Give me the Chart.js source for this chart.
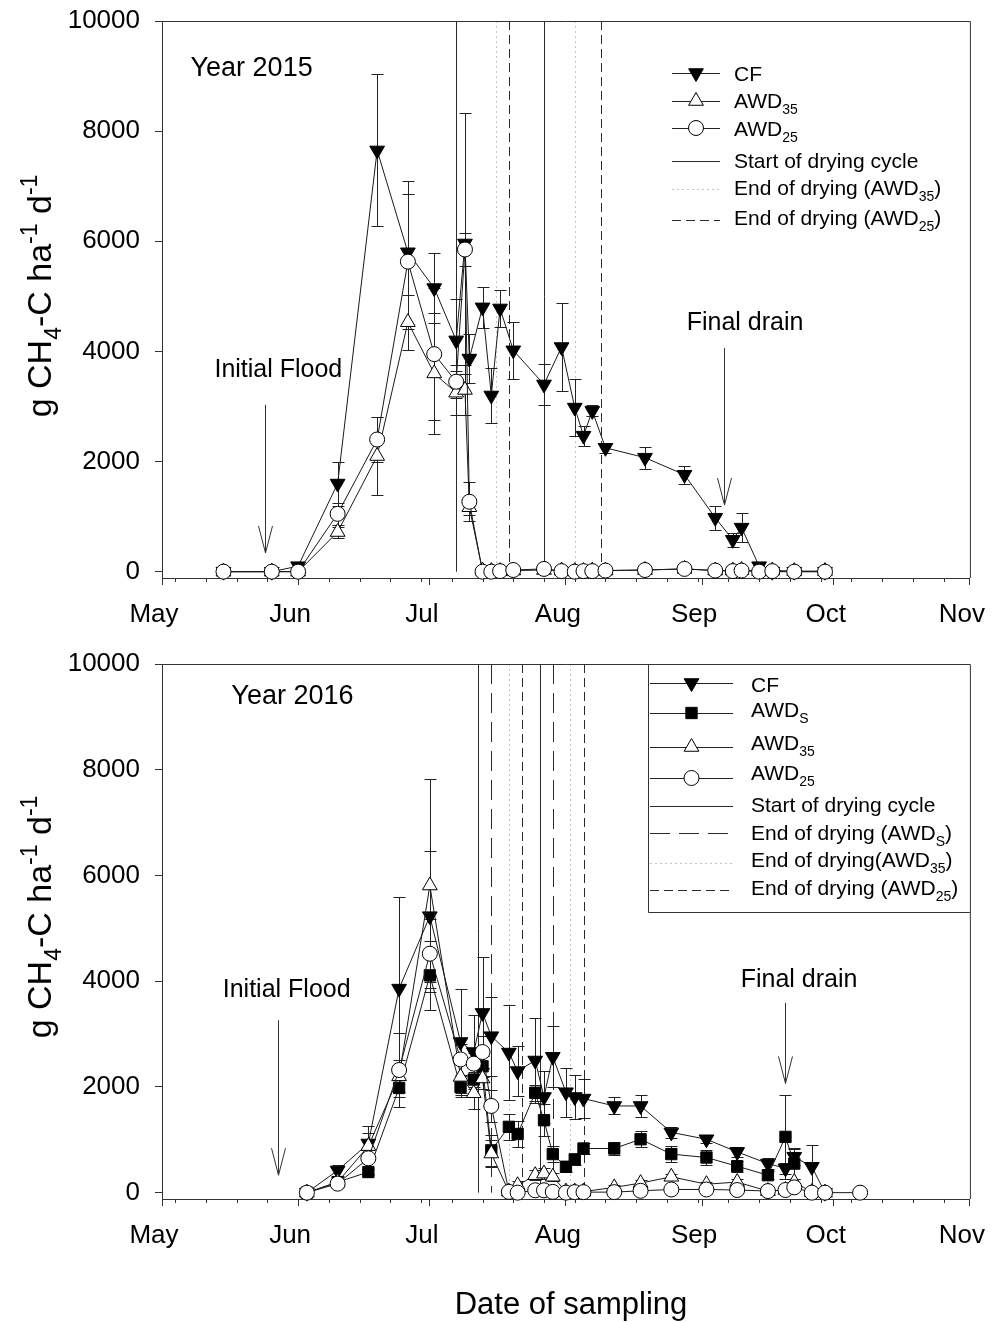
<!DOCTYPE html>
<html>
<head>
<meta charset="utf-8">
<script src="https://cdn.jsdelivr.net/npm/chart.js@4.4.1/dist/chart.umd.min.js"></script>
<style>
  html, body { margin: 0; padding: 0; background: #fff; }
  #wrap { position: relative; width: 1007px; height: 1322px; }
  canvas { position: absolute; left: 0; }
  #c2015 { top: 0; }
  #c2016 { top: 640px; }
</style>
</head>
<body>
<div id="wrap">
  <canvas id="c2015" width="1007" height="640"></canvas>
  <canvas id="c2016" width="1007" height="682"></canvas>
</div>
<script>
// x values are days since 1 May
const monthStarts = [0, 31, 61, 92, 123, 153, 184];
const monthNames = ['May', 'Jun', 'Jul', 'Aug', 'Sep', 'Oct', 'Nov'];
const weekTicks = [3, 10, 17, 24, 38, 45, 52, 59, 66, 73, 80, 87, 94, 101, 108, 115, 122, 129, 136, 143, 150, 157, 164, 171, 178];
const yTickValues = [0, 2000, 4000, 6000, 8000, 10000];

// ---- 2015 ----
const days2015 = [14, 25, 31, 40, 49, 56, 62, 67, 69, 70, 73, 75, 77, 80, 87, 91, 94, 96, 98, 101, 110, 119, 126, 130, 132, 136, 139, 144, 151];
const cf2015 = [0, 0, 100, 1600, 7650, 5800, 5150, 4200, 5960, 3870, 4800, 3200, 4780, 4020, 3400, 4080, 2980, 2470, 2920, 2250, 2070, 1760, 980, 580, 800, 100, 0, 0, 0];
const cf2015Err = [0, 0, 40, 400, 1380, 1300, 630, 760, 2370, 450, 370, 500, 330, 520, 380, 800, 520, 180, 100, 90, 200, 160, 220, 130, 260, 0, 0, 0, 0];
const awd35_2015 = [0, 0, 0, 720, 2100, 4530, 3600, 3250, 3300, 1170, 20, 10, 10, 20, 30, 20, 10, 10, 20, 20, 30, 50, 20, 20, 30, 10, 20, 10, 10];
const awd35_2015Err = [0, 0, 0, 100, 700, 500, 1100, 400, 450, 150, 20, 20, 20, 20, 30, 20, 20, 20, 20, 20, 30, 30, 20, 20, 20, 10, 10, 10, 10];
const awd25_2015 = [0, 0, 0, 1050, 2400, 5630, 3950, 3450, 5850, 1270, 0, 0, 10, 30, 50, 10, 0, 10, 10, 20, 30, 50, 20, 10, 20, 0, 10, 0, 0];
const awd25_2015Err = [0, 0, 0, 200, 400, 1230, 1200, 300, 300, 350, 20, 20, 20, 20, 30, 20, 20, 20, 20, 20, 30, 30, 20, 20, 20, 10, 10, 10, 10];
const startDry2015 = [67, 87];
const endDry35_2015 = [76, 94];
const endDry25_2015 = [79, 100];

// ---- 2016 ----
const days2016 = [33, 40, 47, 54, 61, 68, 71, 73, 75, 79, 81, 85, 87, 89, 92, 94, 96, 103, 109, 116, 124, 131, 138, 142, 144, 148, 151, 159];
const cf2016 = [0, 420, 930, 3860, 5230, 2850, 2660, 3400, 2960, 2650, 2300, 2500, 1810, 2570, 1900, 1810, 1780, 1640, 1640, 1140, 1010, 770, 550, 460, 680, 490, 0, null];
const cf2016Err = [0, 100, 330, 1730, 1240, 1000, 700, 1060, 750, 900, 480, 800, 500, 580, 460, 410, 370, 160, 200, 100, 80, 100, 100, 100, 150, 410, 0, null];
const awds2016 = [0, 200, 390, 1980, 4110, 2000, 2140, 2390, 800, 1245, 1110, 1890, 1370, 730, 490, 630, 835, 835, 1010, 730, 665, 500, 330, 1055, 550, null, null, null];
const awds2016Err = [0, 30, 50, 180, 650, 200, 150, 200, 300, 250, 250, 150, 300, 150, 100, 100, 100, 120, 150, 150, 150, 100, 80, 800, 300, null, null, null];
const awd35_2016 = [0, 200, 880, 2200, 5810, 2190, 1880, 2160, 740, 20, 140, 330, 360, 300, 20, 20, 20, 100, 180, 300, 160, 200, 30, 50, 200, 10, 0, null];
const awd35_2016Err = [0, 50, 250, 300, 2020, 300, 300, 200, 250, 50, 80, 100, 100, 80, 20, 20, 20, 50, 50, 50, 50, 50, 20, 20, 50, 10, 0, null];
const awd25_2016 = [0, 170, 650, 2320, 4520, 2520, 2440, 2660, 1640, 15, 0, 45, 45, 15, 0, 10, 10, 10, 35, 60, 60, 50, 30, 50, 100, 0, 0, 0];
const awd25_2016Err = [0, 60, 300, 700, 650, 300, 200, 300, 300, 10, 10, 20, 20, 10, 0, 10, 10, 10, 20, 20, 20, 20, 10, 20, 30, 0, 0, 0];
const startDry2016 = [72, 86];
const endDryS_2016 = [75, 89];
const endDry35_2016 = [79, 93];
const endDry25_2016 = [82, 96];

const FONT = '"Liberation Sans", Arial, sans-serif';
Chart.defaults.font.family = FONT;
Chart.defaults.color = '#000';

const markers = {
    CF: { shape: 'triangle', rotation: 180, radius: 8.5, fill: '#000' },
    AWDS: { shape: 'rect', rotation: 0, radius: 8, fill: '#000' },
    AWD35: { shape: 'triangle', rotation: 0, radius: 8.5, fill: '#fff' },
    AWD25: { shape: 'circle', rotation: 0, radius: 7.5, fill: '#fff' },
};
const SOLID = { color: '#2a2a2a', dash: [] };
const DOTTED = { color: '#c4c4c4', dash: [2, 3] };
const DASHED = { color: '#2a2a2a', dash: [9, 5] };
const LONGDASH = { color: '#2a2a2a', dash: [20, 9] };

function runsWidth(ctx, runs, size) {
    let w = 0;
    runs.forEach(([t, k]) => {
        ctx.font = (k === 'n' ? size : Math.round(size * 0.68)) + 'px ' + FONT;
        w += ctx.measureText(t).width;
    });
    return w;
}

function drawRuns(ctx, runs, x, y, size) {
    ctx.textBaseline = 'alphabetic';
    ctx.textAlign = 'left';
    runs.forEach(([t, k]) => {
        const s = k === 'n' ? size : Math.round(size * 0.68);
        ctx.font = s + 'px ' + FONT;
        const dy = k === 'sub' ? size * 0.3 : (k === 'sup' ? -size * 0.42 : 0);
        ctx.fillText(t, x, y + dy);
        x += ctx.measureText(t).width;
    });
}

function drawMarker(ctx, m, x, y) {
    const r = m.radius;
    ctx.beginPath();
    if (m.shape === 'circle') {
        ctx.arc(x, y, r, 0, Math.PI * 2);
    } else if (m.shape === 'rect') {
        const s = Math.SQRT1_2 * r;
        ctx.rect(x - s, y - s, 2 * s, 2 * s);
    } else {
        let rad = m.rotation * Math.PI / 180;
        for (let k = 0; k < 3; k++) {
            const px = x + Math.sin(rad) * r, py = y - Math.cos(rad) * r;
            if (k === 0) ctx.moveTo(px, py); else ctx.lineTo(px, py);
            rad += 2 * Math.PI / 3;
        }
        ctx.closePath();
    }
    ctx.fillStyle = m.fill;
    ctx.fill();
    ctx.strokeStyle = '#000';
    ctx.lineWidth = 1;
    ctx.stroke();
}

const errorBars = {
    id: 'errorBars',
    beforeDatasetsDraw(chart) {
        const { ctx, scales: { x, y } } = chart;
        const opts = chart.options.plugins.decor;
        ctx.save();
        // vertical drying-cycle lines
        opts.vlines.forEach(v => {
            ctx.strokeStyle = v.style.color;
            ctx.setLineDash(v.style.dash);
            ctx.lineWidth = 1;
            v.days.forEach(d => {
                const px = Math.round(x.getPixelForValue(d)) + 0.5;
                ctx.beginPath();
                ctx.moveTo(px, chart.chartArea.top);
                ctx.lineTo(px, y.getPixelForValue(0));
                ctx.stroke();
            });
        });
        ctx.setLineDash([]);
        ctx.strokeStyle = '#222';
        ctx.lineWidth = 1;
        chart.data.datasets.forEach(ds => {
            ds.data.forEach(p => {
                if (!p.e) return;
                const px = Math.round(x.getPixelForValue(p.x)) + 0.5;
                const yt = Math.round(y.getPixelForValue(p.y + p.e)) + 0.5;
                const yb = Math.round(y.getPixelForValue(Math.max(p.y - p.e, 0))) + 0.5;
                ctx.beginPath();
                ctx.moveTo(px, yt); ctx.lineTo(px, yb);
                ctx.moveTo(px - 6, yt); ctx.lineTo(px + 6, yt);
                ctx.moveTo(px - 6, yb); ctx.lineTo(px + 6, yb);
                ctx.stroke();
            });
        });
        ctx.restore();
    }
};

const decor = {
    id: 'decor',
    afterDraw(chart) {
        const { ctx, chartArea: a, scales: { x, y } } = chart;
        const o = chart.options.plugins.decor;
        ctx.save();
        ctx.strokeStyle = '#333';
        ctx.lineWidth = 1;
        // frame top and right
        ctx.beginPath();
        ctx.moveTo(a.left, a.top + 0.5); ctx.lineTo(a.right + 0.5, a.top + 0.5);
        ctx.lineTo(a.right + 0.5, a.bottom);
        ctx.stroke();
        // minor weekly ticks
        ctx.beginPath();
        weekTicks.forEach(d => {
            const px = Math.round(x.getPixelForValue(d)) + 0.5;
            ctx.moveTo(px, a.bottom); ctx.lineTo(px, a.bottom + 4);
        });
        ctx.stroke();

        // annotations
        ctx.fillStyle = '#000';
        o.texts.forEach(t => {
            ctx.font = t.size + 'px ' + FONT;
            ctx.textAlign = t.align;
            ctx.textBaseline = 'middle';
            ctx.fillText(t.text, x.getPixelForValue(t.day), y.getPixelForValue(t.value));
        });
        ctx.strokeStyle = '#333';
        o.arrows.forEach(ar => {
            const px = Math.round(x.getPixelForValue(ar.day)) + 0.5;
            const y0 = y.getPixelForValue(ar.from), y1 = y.getPixelForValue(ar.to);
            ctx.beginPath();
            ctx.moveTo(px, y0); ctx.lineTo(px, y1);
            ctx.moveTo(px - 7, y1 - 27); ctx.lineTo(px, y1); ctx.lineTo(px + 7, y1 - 27);
            ctx.stroke();
        });

        // legend
        const lg = o.legend;
        if (lg.box) {
            ctx.strokeStyle = '#333';
            ctx.beginPath();
            ctx.moveTo(lg.box.x + 0.5, a.top); ctx.lineTo(lg.box.x + 0.5, lg.box.bottom + 0.5);
            ctx.lineTo(a.right, lg.box.bottom + 0.5);
            ctx.stroke();
        }
        lg.items.forEach(it => {
            ctx.strokeStyle = it.line ? it.line.color : '#222';
            ctx.setLineDash(it.line ? it.line.dash : []);
            ctx.lineWidth = 1;
            ctx.beginPath();
            ctx.moveTo(lg.x0, Math.round(it.y) + 0.5); ctx.lineTo(lg.x1, Math.round(it.y) + 0.5);
            ctx.stroke();
            ctx.setLineDash([]);
            if (it.marker) drawMarker(ctx, it.marker, (lg.x0 + lg.x1) / 2, it.y);
            ctx.fillStyle = '#000';
            drawRuns(ctx, it.runs, lg.tx, it.base, 21);
        });

        // y title (rotated, with sub/superscripts)
        const yRuns = [['g CH', 'n'], ['4', 'sub'], ['-C ha', 'n'], ['-1', 'sup'], [' d', 'n'], ['-1', 'sup']];
        const ySize = 34;
        const w = runsWidth(ctx, yRuns, ySize);
        ctx.save();
        ctx.translate(o.yTitleX, o.yTitleY);
        ctx.rotate(-Math.PI / 2);
        ctx.fillStyle = '#000';
        drawRuns(ctx, yRuns, -w / 2, 0, ySize);
        ctx.restore();

        if (o.xTitle) {
            ctx.font = '31px ' + FONT;
            ctx.textAlign = 'center';
            ctx.textBaseline = 'middle';
            ctx.fillStyle = '#000';
            ctx.fillText(o.xTitle.text, o.xTitle.x, o.xTitle.y);
        }
        ctx.restore();
    }
};

function makeSeries(days, values, errors, name, order) {
    const m = markers[name];
    return {
        label: name,
        data: days.map((d, i) => ({ x: d, y: values[i], e: errors[i] })).filter(p => p.y != null),
        borderColor: '#1a1a1a',
        borderWidth: 1,
        pointStyle: m.shape,
        pointRotation: m.rotation,
        pointRadius: m.radius,
        pointBackgroundColor: m.fill,
        pointBorderColor: '#000',
        pointBorderWidth: 1,
        tension: 0,
        fill: false,
        order: order,
        clip: false,
    };
}

function makeChart(id, datasets, xAxisHeight, topPad, yMin, decorOpts) {
    return new Chart(document.getElementById(id), {
        type: 'line',
        data: { datasets: datasets },
        options: {
            responsive: false,
            animation: false,
            events: [],
            layout: { padding: { left: 0, top: topPad, right: 32, bottom: 0 } },
            plugins: {
                legend: { display: false },
                tooltip: { enabled: false },
                decor: decorOpts,
            },
            scales: {
                x: {
                    type: 'linear',
                    min: 0,
                    max: 184,
                    afterBuildTicks: s => { s.ticks = monthStarts.map(v => ({ value: v })); },
                    afterFit: s => { s.height = xAxisHeight; },
                    ticks: {
                        callback: (v, i) => monthNames[i],
                        font: { size: 26 },
                        color: '#000',
                        labelOffset: -8,
                        padding: 14,
                        autoSkip: false,
                        maxRotation: 0,
                        minRotation: 0,
                    },
                    grid: { drawOnChartArea: false, tickLength: 7, color: '#333' },
                    border: { color: '#333', width: 1 },
                },
                y: {
                    min: yMin,
                    max: 10000,
                    afterBuildTicks: s => { s.ticks = yTickValues.map(v => ({ value: v })); },
                    afterFit: s => { s.width = 162; s.paddingTop = 0; s.paddingBottom = 0; },
                    ticks: {
                        callback: v => String(v),
                        font: { size: 26 },
                        color: '#000',
                        padding: 15,
                    },
                    grid: { drawOnChartArea: false, tickLength: 7, color: '#333' },
                    border: { color: '#333', width: 1 },
                },
            },
        },
        plugins: [errorBars, decor],
    });
}

makeChart('c2015', [
    makeSeries(days2015, cf2015, cf2015Err, 'CF', 3),
    makeSeries(days2015, awd35_2015, awd35_2015Err, 'AWD35', 1),
    makeSeries(days2015, awd25_2015, awd25_2015Err, 'AWD25', 0),
], 62, 21, -115, {
    vlines: [
        { days: startDry2015, style: SOLID },
        { days: endDry35_2015, style: DOTTED },
        { days: endDry25_2015, style: DASHED },
    ],
    texts: [
        { text: 'Year 2015', day: 6.5, value: 9140, size: 27, align: 'left' },
        { text: 'Initial Flood', day: 26.5, value: 3660, size: 25, align: 'center' },
        { text: 'Final drain', day: 132.8, value: 4510, size: 25, align: 'center' },
    ],
    arrows: [
        { day: 23.5, from: 3030, to: 340 },
        { day: 128, from: 4060, to: 1210 },
    ],
    legend: {
        x0: 672, x1: 720, tx: 734,
        items: [
            { y: 73, base: 81, marker: markers.CF, runs: [['CF', 'n']] },
            { y: 101, base: 108, marker: markers.AWD35, runs: [['AWD', 'n'], ['35', 'sub']] },
            { y: 128, base: 136, marker: markers.AWD25, runs: [['AWD', 'n'], ['25', 'sub']] },
            { y: 161, base: 168, line: SOLID, runs: [['Start of drying cycle', 'n']] },
            { y: 189, base: 195, line: DOTTED, runs: [['End of drying (AWD', 'n'], ['35', 'sub'], [')', 'n']] },
            { y: 220, base: 225, line: DASHED, runs: [['End of drying (AWD', 'n'], ['25', 'sub'], [')', 'n']] },
        ],
    },
    yTitleX: 51,
    yTitleY: 296,
});

makeChart('c2016', [
    makeSeries(days2016, cf2016, cf2016Err, 'CF', 3),
    makeSeries(days2016, awds2016, awds2016Err, 'AWDS', 2),
    makeSeries(days2016, awd35_2016, awd35_2016Err, 'AWD35', 1),
    makeSeries(days2016, awd25_2016, awd25_2016Err, 'AWD25', 0),
], 123, 24, -120, {
    vlines: [
        { days: startDry2016, style: SOLID },
        { days: endDryS_2016, style: LONGDASH },
        { days: endDry35_2016, style: DOTTED },
        { days: endDry25_2016, style: DASHED },
    ],
    texts: [
        { text: 'Year 2016', day: 15.8, value: 9380, size: 27, align: 'left' },
        { text: 'Initial Flood', day: 28.4, value: 3830, size: 25, align: 'center' },
        { text: 'Final drain', day: 145.1, value: 4020, size: 25, align: 'center' },
    ],
    arrows: [
        { day: 26.5, from: 3260, to: 330 },
        { day: 142, from: 3590, to: 2066 },
    ],
    legend: {
        x0: 650, x1: 733, tx: 751,
        box: { x: 648, bottom: 272 },
        items: [
            { y: 43, base: 52, marker: markers.CF, runs: [['CF', 'n']] },
            { y: 73, base: 77, marker: markers.AWDS, runs: [['AWD', 'n'], ['S', 'sub']] },
            { y: 107, base: 110, marker: markers.AWD35, runs: [['AWD', 'n'], ['35', 'sub']] },
            { y: 138, base: 140, marker: markers.AWD25, runs: [['AWD', 'n'], ['25', 'sub']] },
            { y: 166, base: 172, line: SOLID, runs: [['Start of drying cycle', 'n']] },
            { y: 193, base: 200, line: LONGDASH, runs: [['End of drying (AWD', 'n'], ['S', 'sub'], [')', 'n']] },
            { y: 223, base: 227, line: DOTTED, runs: [['End of drying(AWD', 'n'], ['35', 'sub'], [')', 'n']] },
            { y: 250, base: 255, line: DASHED, runs: [['End of drying (AWD', 'n'], ['25', 'sub'], [')', 'n']] },
        ],
    },
    yTitleX: 51,
    yTitleY: 277,
    xTitle: { text: 'Date of sampling', x: 571, y: 665 },
});
</script>
</body>
</html>
